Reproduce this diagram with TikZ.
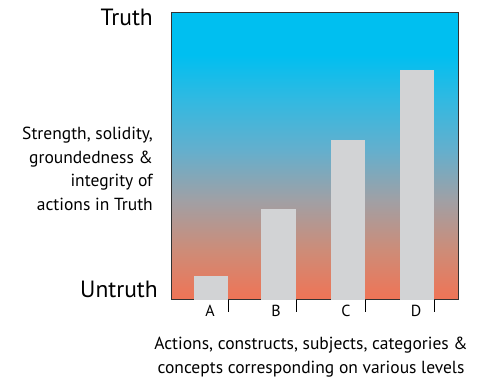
\documentclass[tikz,border=0pt]{standalone}
\usepackage{fontspec}
\setmainfont{PT Sans}
\usepackage{tikz}
\usetikzlibrary{calc}

\definecolor{truthblue}{RGB}{0,191,240}
\definecolor{shadeone}{RGB}{50,185,225}
\definecolor{shadetwo}{RGB}{100,175,205}
\definecolor{shadethree}{RGB}{160,160,165}
\definecolor{shadefour}{RGB}{205,140,120}
\definecolor{untruthred}{RGB}{240,115,85}
\definecolor{bargray}{RGB}{210,211,213}
\pgfdeclareverticalshading{truthshade}{100bp}{%
  color(0bp)=(untruthred); color(25bp)=(untruthred);
  color(33.7bp)=(shadefour);
  color(42.4bp)=(shadethree);
  color(51.1bp)=(shadetwo);
  color(59.8bp)=(shadeone);
  color(67.7bp)=(truthblue); color(100bp)=(truthblue)}

\begin{document}
\begin{tikzpicture}[x=1pt,y=-1pt]
\tikzstyle{bar}=[fill=bargray]
\tikzstyle{letter}=[font=\fontsize{16}{16}\selectfont,inner sep=0pt]
\tikzstyle{caption}=[font=\fontsize{17.5}{23.5}\selectfont,inner sep=0pt,align=center]
\tikzstyle{level}=[font=\fontsize{23.5}{23.5}\selectfont,anchor=east,inner sep=0pt]
\useasboundingbox (0,0) rectangle (482,379);

% the frame, blue at the top and red at the bottom
\shade[shading=truthshade,draw=black!80,line width=1pt] (171,13) rectangle (458,300);

\fill[bar] (194,300) rectangle (228,276);
\fill[bar] (261,300) rectangle (296,209);
\fill[bar] (331,300) rectangle (365,140);
\fill[bar] (400,300) rectangle (434,70);

\foreach \x in {228,296,365,434}
  \draw[line width=1pt] (\x,300) -- (\x,312);

\node[letter] (a) at (210,311) {A};
\node[letter] (b) at (276,311) {B};
\node[letter] (c) at (346,311) {C};
\node[letter] (d) at (416,311) {D};

\node[level] (truth) at (153,17) {Truth};
\node[level] (untruth) at (158,289) {Untruth};
\node[caption,anchor=east,align=right] (strength) at (153,169) {Strength, solidity,\\groundedness \&\\integrity of\\actions in Truth};
\node[caption] (actions) at (311,357) {Actions, constructs, subjects, categories \&\\concepts corresponding on various levels};
\end{tikzpicture}
\end{document}
